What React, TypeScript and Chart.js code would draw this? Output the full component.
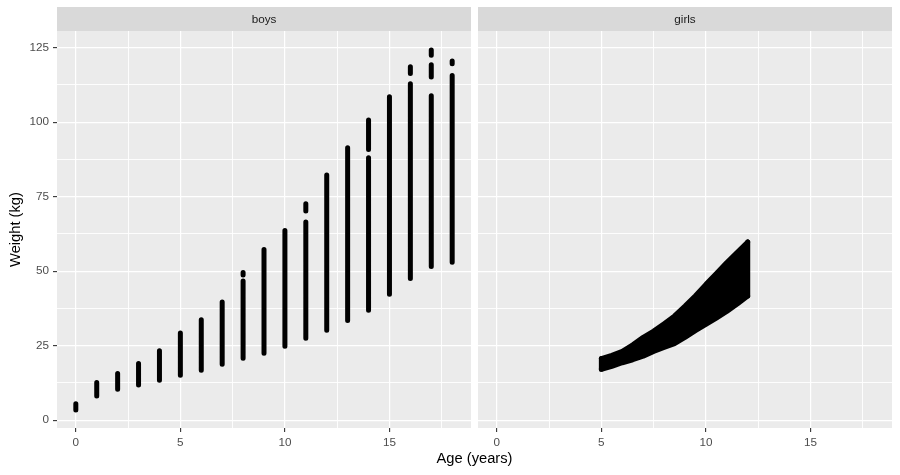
import React, { useEffect, useRef } from "react";
import { Chart, registerables } from "chart.js";

Chart.register(...registerables);

const FONT = "'Liberation Sans', Arial, Helvetica, sans-serif";

// Boys: each run of overlapping points at one age (years): lowest and highest weight (kg)
const boysRunAge = [0, 1, 2, 3, 4, 5, 6, 7, 8, 8, 9, 10, 11, 11, 12, 13, 14, 14, 15, 16, 16, 17, 17, 17, 18, 18];
const boysRunLow = [3.4, 8.1, 10.4, 11.8, 13.4, 15.1, 16.8, 18.8, 20.8, 48.7, 22.5, 24.8, 27.5, 70.2, 30.2, 33.5, 36.9, 90.8, 42.3, 47.6, 116.3, 51.6, 115.2, 122.5, 53.0, 119.6];
const boysRunHigh = [5.5, 12.7, 15.7, 19.0, 23.3, 29.3, 33.7, 39.7, 46.7, 49.6, 57.3, 63.7, 66.5, 72.6, 82.3, 91.4, 88.1, 100.7, 108.5, 112.9, 118.6, 108.9, 119.3, 124.2, 115.7, 120.5];

// Girls: upper and lower weight (kg) envelope of the dense point cloud
const girlsAge = [5, 5.5, 6, 6.5, 7, 7.5, 8, 8.5, 9, 9.5, 10, 10.5, 11, 11.5, 12];
const girlsUpper = [20.7, 21.8, 23.1, 25.3, 27.8, 29.9, 32.4, 35.0, 38.3, 41.8, 45.6, 49.2, 52.9, 56.4, 59.8];
const girlsLower = [17.1, 18.1, 19.3, 20.3, 21.5, 23.1, 24.4, 25.7, 27.8, 30.1, 32.2, 34.3, 36.5, 39.0, 41.7];

const xTicks = [0, 2.5, 5, 7.5, 10, 12.5, 15, 17.5];
const xMajor = [0, 5, 10, 15];
const yTicks = [0, 12.5, 25, 37.5, 50, 62.5, 75, 87.5, 100, 112.5, 125];
const yMajor = [0, 25, 50, 75, 100, 125];
const panelLabels = ["boys", "girls"];
const xTitle = "Age (years)";
const yTitle = "Weight (kg)";

const panelPlugin = {
  id: "panel",
  beforeDraw(chart: any, _args: any, opts: any) {
    const { ctx, chartArea } = chart;
    const { left, top, right, bottom } = chartArea;
    ctx.save();
    ctx.fillStyle = "#EBEBEB";
    ctx.fillRect(left, top, right - left, bottom - top);
    ctx.fillStyle = "#D9D9D9";
    ctx.fillRect(left, 7, right - left, top - 7);
    ctx.fillStyle = "#1A1A1A";
    ctx.font = `11.7px ${FONT}`;
    ctx.textAlign = "center";
    ctx.textBaseline = "middle";
    ctx.fillText(opts.label, (left + right) / 2, (7 + top) / 2 + 0.5);
    ctx.restore();
  },
};

function gridOpts(major: number[], drawTicks: boolean) {
  return {
    color: "#FFFFFF",
    lineWidth: (c: any) => (c.tick && major.includes(c.tick.value) ? 1.2 : 0.9),
    tickColor: (c: any) => (c.tick && major.includes(c.tick.value) ? "#333333" : "rgba(0,0,0,0)"),
    tickWidth: 1.1,
    tickLength: 4,
    drawTicks,
  };
}

function buildConfig(index: number): any {
  const isBoys = index === 0;
  const common = {
    borderColor: "#000000",
    borderWidth: 5,
    borderCapStyle: "round",
    borderJoinStyle: "round",
    pointRadius: 0,
    tension: 0,
    spanGaps: false,
  };
  let datasets: any[];
  if (isBoys) {
    const pts: any[] = [];
    boysRunAge.forEach((a, i) => {
      pts.push({ x: a, y: boysRunLow[i] }, { x: a, y: boysRunHigh[i] }, { x: a, y: null });
    });
    datasets = [{ ...common, data: pts, fill: false }];
  } else {
    const n = girlsAge.length - 1;
    const edges = [
      { x: girlsAge[0], y: girlsUpper[0] },
      { x: girlsAge[0], y: girlsLower[0] },
      { x: girlsAge[0], y: null },
      { x: girlsAge[n], y: girlsUpper[n] },
      { x: girlsAge[n], y: girlsLower[n] },
    ];
    datasets = [
      { ...common, data: girlsAge.map((a, i) => ({ x: a, y: girlsUpper[i] })), backgroundColor: "#000000", fill: "+1" },
      { ...common, data: girlsAge.map((a, i) => ({ x: a, y: girlsLower[i] })), fill: false },
      { ...common, data: edges, fill: false },
    ];
  }
  const tickFont = { family: FONT, size: 11.7 };
  return {
    type: "line",
    data: { datasets },
    options: {
      animation: false,
      responsive: false,
      events: [],
      layout: {
        padding: isBoys ? { left: 0, right: 3, top: 31, bottom: 0 } : { left: 4, right: 8, top: 31, bottom: 0 },
      },
      plugins: {
        legend: { display: false },
        tooltip: { enabled: false },
        panel: { label: panelLabels[index] },
      },
      scales: {
        x: {
          type: "linear",
          min: -0.9,
          max: 18.9,
          afterBuildTicks: (s: any) => {
            s.ticks = xTicks.map((v) => ({ value: v }));
          },
          afterFit: (s: any) => {
            s.height = 47;
          },
          ticks: {
            autoSkip: false,
            maxRotation: 0,
            color: "#4D4D4D",
            font: tickFont,
            padding: 4,
            callback: (v: number) => (xMajor.includes(v) ? String(v) : ""),
          },
          grid: gridOpts(xMajor, true),
          border: { display: false },
        },
        y: {
          type: "linear",
          min: -2.6,
          max: 130.6,
          afterBuildTicks: (s: any) => {
            s.ticks = yTicks.map((v) => ({ value: v }));
          },
          afterFit: (s: any) => {
            s.width = isBoys ? 57 : 0;
          },
          ticks: {
            display: isBoys,
            color: "#4D4D4D",
            font: tickFont,
            padding: 4,
            callback: (v: number) => (yMajor.includes(v) ? String(v) : ""),
          },
          grid: gridOpts(yMajor, isBoys),
          border: { display: false },
          title: {
            display: isBoys,
            text: yTitle,
            color: "#000000",
            font: { family: FONT, size: 14.7 },
            padding: { top: 7, bottom: 0 },
          },
        },
      },
    },
    plugins: [panelPlugin],
  };
}

function Panel({ index, left, width }: { index: number; left: number; width: number }) {
  const ref = useRef<HTMLCanvasElement>(null);
  useEffect(() => {
    const chart = new Chart(ref.current as HTMLCanvasElement, buildConfig(index));
    return () => chart.destroy();
  }, [index]);
  return (
    <canvas
      ref={ref}
      width={width}
      height={475}
      style={{ position: "absolute", left, top: 0, width, height: 475, display: "block" }}
    />
  );
}

export default function App() {
  return (
    <div style={{ position: "absolute", left: 0, top: 0, width: 900, height: 475, background: "#FFFFFF", overflow: "hidden" }}>
      <Panel index={0} left={0} width={474} />
      <Panel index={1} left={474} width={426} />
      <div
        style={{
          position: "absolute",
          left: 374.5,
          width: 200,
          top: 450,
          textAlign: "center",
          fontFamily: FONT,
          fontSize: 14.7,
          lineHeight: "17px",
          color: "#000000",
        }}
      >
        {xTitle}
      </div>
    </div>
  );
}
